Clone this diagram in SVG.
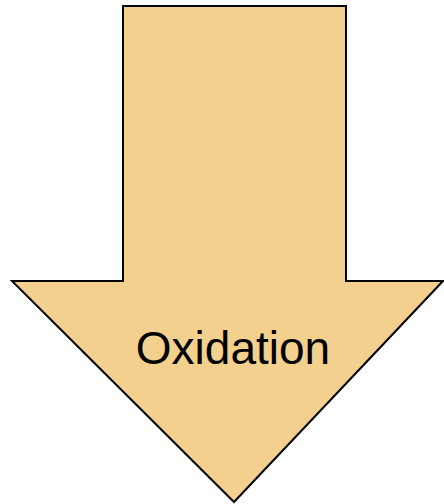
<svg xmlns="http://www.w3.org/2000/svg" width="444" height="504" viewBox="0 0 444 504">
<style>
.arrow{fill:#F3D08E;stroke:#000;stroke-width:2;stroke-linejoin:miter}
.label{font-family:"Liberation Sans",Arial,sans-serif;font-size:46px;fill:#000;text-anchor:middle}
</style>
<g id="arrow-oxidation">
<polygon class="arrow" points="123,6 346,6 346,281 443,281 234,502 12,281 123,281"/>
<text class="label" x="233" y="364">Oxidation</text>
</g>
</svg>
